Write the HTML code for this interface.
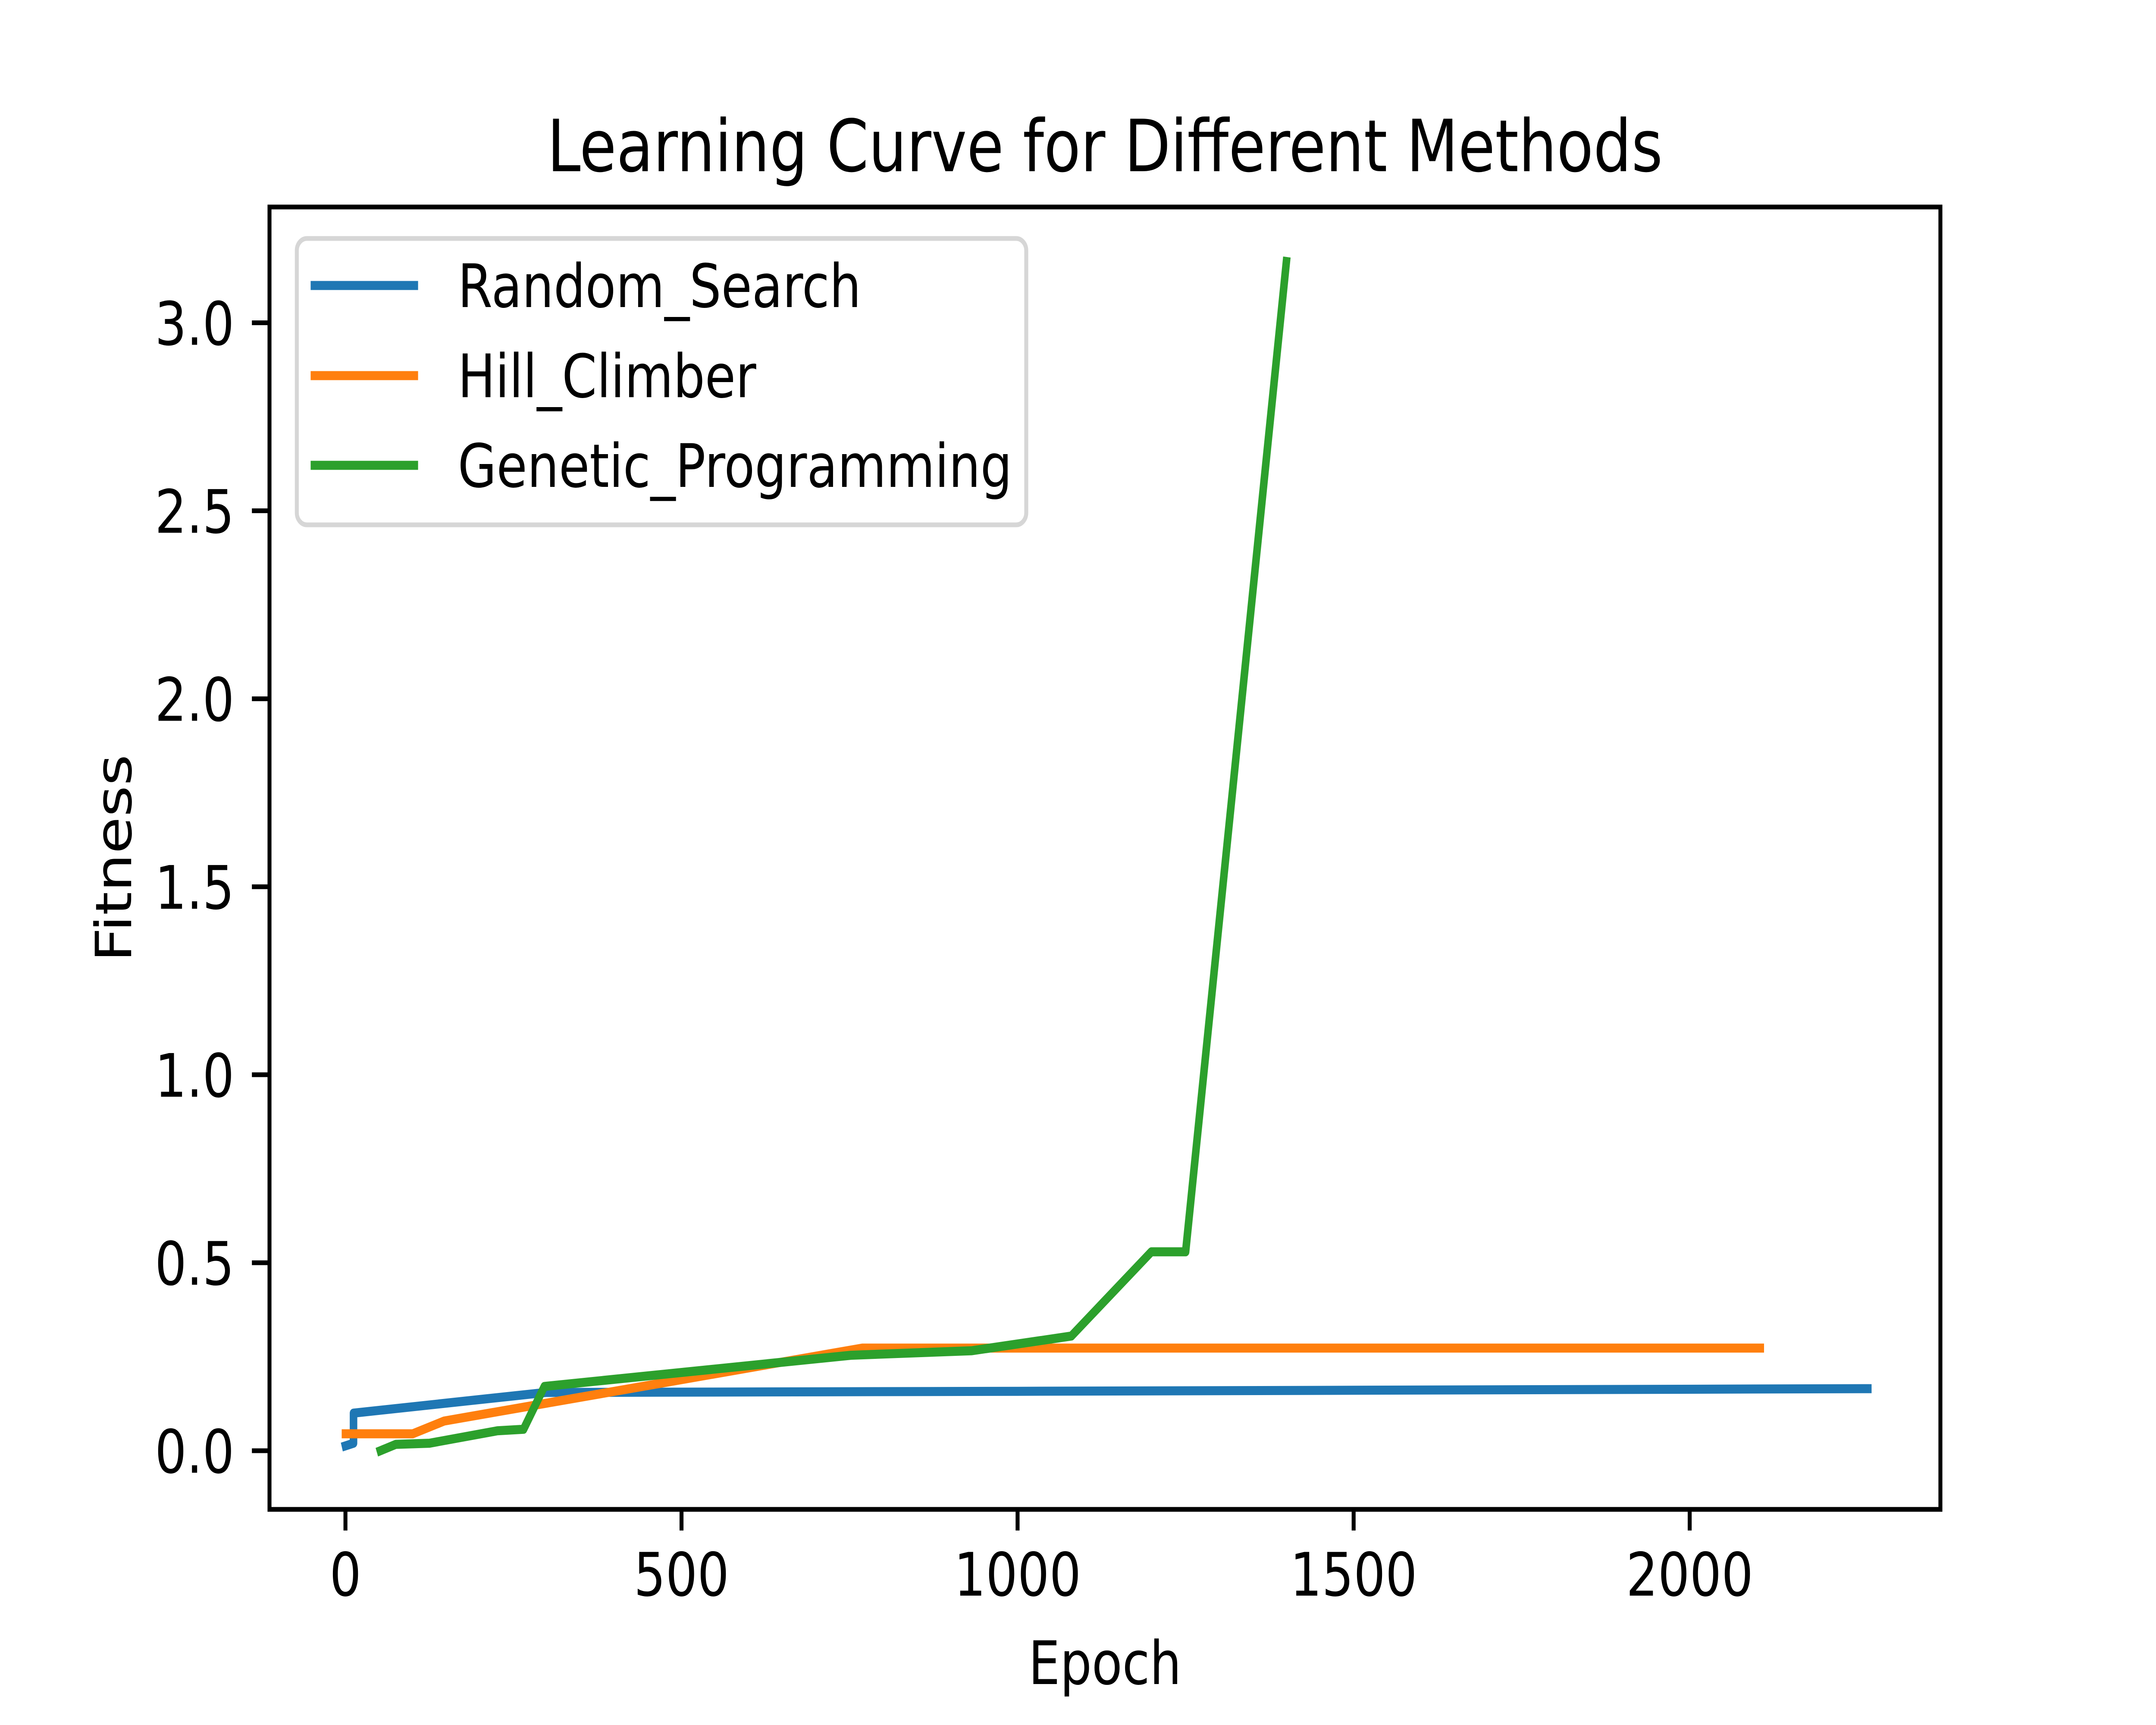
<!DOCTYPE html>
<html><head><meta charset="utf-8"><style>
html,body{margin:0;padding:0;background:#fff;overflow:hidden;width:100%;height:100%}
svg{display:block;width:100vw;height:100vh}
text{font-family:"DejaVu Sans","Liberation Sans",sans-serif;fill:#000}
</style></head><body>
<svg id="chart" viewBox="0 0 6000 4000" preserveAspectRatio="none" xmlns="http://www.w3.org/2000/svg">
<rect width="6000" height="4000" fill="#fff"/>
<text x="3075" y="397" font-size="167" text-anchor="middle">Learning Curve for Different Methods</text>
<g id="plot"></g>
<rect x="750" y="480" width="4650" height="3020" fill="none" stroke="#000" stroke-width="11"/>
<g id="ticks"></g>
<text x="3075" y="3905" font-size="139" text-anchor="middle">Epoch</text>
<text x="0" y="0" font-size="139" text-anchor="middle" transform="translate(365,1990) rotate(-90)">Fitness</text>
<g>
<rect x="826" y="553" width="2030" height="664" rx="28" fill="#fff" fill-opacity="0.8" stroke="#d6d6d6" stroke-width="11"/>
<g id="legend-entries"></g>
</g>
</svg>
<script>
const seriesNames = ["Random_Search", "Hill_Climber", "Genetic_Programming"];
const seriesColors = ["#1f77b4", "#ff7f0e", "#2ca02c"];
const randomX = [0, 12, 12, 298, 1000, 2265];
const randomY = [0.013, 0.02, 0.10, 0.155, 0.158, 0.165];
const hillX = [0, 100, 147, 769, 2105];
const hillY = [0.045, 0.045, 0.079, 0.273, 0.273];
const geneticX = [52, 75, 125, 226, 265, 296, 752, 932, 1080, 1199, 1250, 1400];
const geneticY = [0.0, 0.017, 0.02, 0.053, 0.057, 0.171, 0.254, 0.266, 0.305, 0.529, 0.529, 3.163];
const xTicks = [0, 500, 1000, 1500, 2000];
const yTicks = [0, 0.5, 1.0, 1.5, 2.0, 2.5, 3.0];
const yTickLabels = ["0.0", "0.5", "1.0", "1.5", "2.0", "2.5", "3.0"];

const NS = "http://www.w3.org/2000/svg";
const X0 = 750, X1 = 5400, Y0 = 480, Y1 = 3500;
const xMin = -113, xMax = 2373, yMin = -0.156, yMax = 3.308;
function xs(v){ return X0 + (v - xMin) / (xMax - xMin) * (X1 - X0); }
function ys(v){ return Y1 - (v - yMin) / (yMax - yMin) * (Y1 - Y0); }

const plot = document.getElementById("plot");
const allX = [randomX, hillX, geneticX];
const allY = [randomY, hillY, geneticY];
const lineNames = ["random-search-line", "hill-climber-line", "genetic-programming-line"];
for (let s = 0; s < 3; s++) {
  const pts = allX[s].map((x, i) => xs(x).toFixed(1) + "," + ys(allY[s][i]).toFixed(1)).join(" ");
  const pl = document.createElementNS(NS, "polyline");
  pl.setAttribute("points", pts);
  pl.setAttribute("fill", "none");
  pl.setAttribute("stroke", seriesColors[s]);
  pl.setAttribute("stroke-width", "21");
  pl.setAttribute("stroke-linejoin", "round");
  pl.setAttribute("stroke-linecap", "square");
  
  
  plot.appendChild(pl);
}

const ticks = document.getElementById("ticks");
xTicks.forEach((t) => {
  const x = xs(t);
  const l = document.createElementNS(NS, "line");
  l.setAttribute("x1", x); l.setAttribute("x2", x);
  l.setAttribute("y1", Y1); l.setAttribute("y2", Y1 + 49);
  l.setAttribute("stroke", "#000"); l.setAttribute("stroke-width", "11");
  
  
  ticks.appendChild(l);
  const tx = document.createElementNS(NS, "text");
  tx.setAttribute("x", x); tx.setAttribute("y", 3700);
  tx.setAttribute("font-size", "139"); tx.setAttribute("text-anchor", "middle");
  tx.textContent = String(t);
  
  
  ticks.appendChild(tx);
});
yTicks.forEach((t, i) => {
  const y = ys(t);
  const l = document.createElementNS(NS, "line");
  l.setAttribute("x1", X0 - 49); l.setAttribute("x2", X0);
  l.setAttribute("y1", y); l.setAttribute("y2", y);
  l.setAttribute("stroke", "#000"); l.setAttribute("stroke-width", "11");
  
  
  ticks.appendChild(l);
  const tx = document.createElementNS(NS, "text");
  tx.setAttribute("x", X0 - 98); tx.setAttribute("y", y + 51);
  tx.setAttribute("font-size", "139"); tx.setAttribute("text-anchor", "end");
  tx.textContent = yTickLabels[i];
  
  
  ticks.appendChild(tx);
});

const leg = document.getElementById("legend-entries");
const rowY = [662, 871, 1079];
seriesNames.forEach((n, i) => {
  const g = document.createElementNS(NS, "g");
  
  
  const l = document.createElementNS(NS, "line");
  l.setAttribute("x1", 875); l.setAttribute("x2", 1153);
  l.setAttribute("y1", rowY[i]); l.setAttribute("y2", rowY[i]);
  l.setAttribute("stroke", seriesColors[i]); l.setAttribute("stroke-width", "21");
  l.setAttribute("stroke-linecap", "square");
  
  
  g.appendChild(l);
  const tx = document.createElementNS(NS, "text");
  tx.setAttribute("x", 1274); tx.setAttribute("y", rowY[i] + 50);
  tx.setAttribute("font-size", "139");
  tx.textContent = n;
  
  
  g.appendChild(tx);
  leg.appendChild(g);
});
</script>
</body></html>
